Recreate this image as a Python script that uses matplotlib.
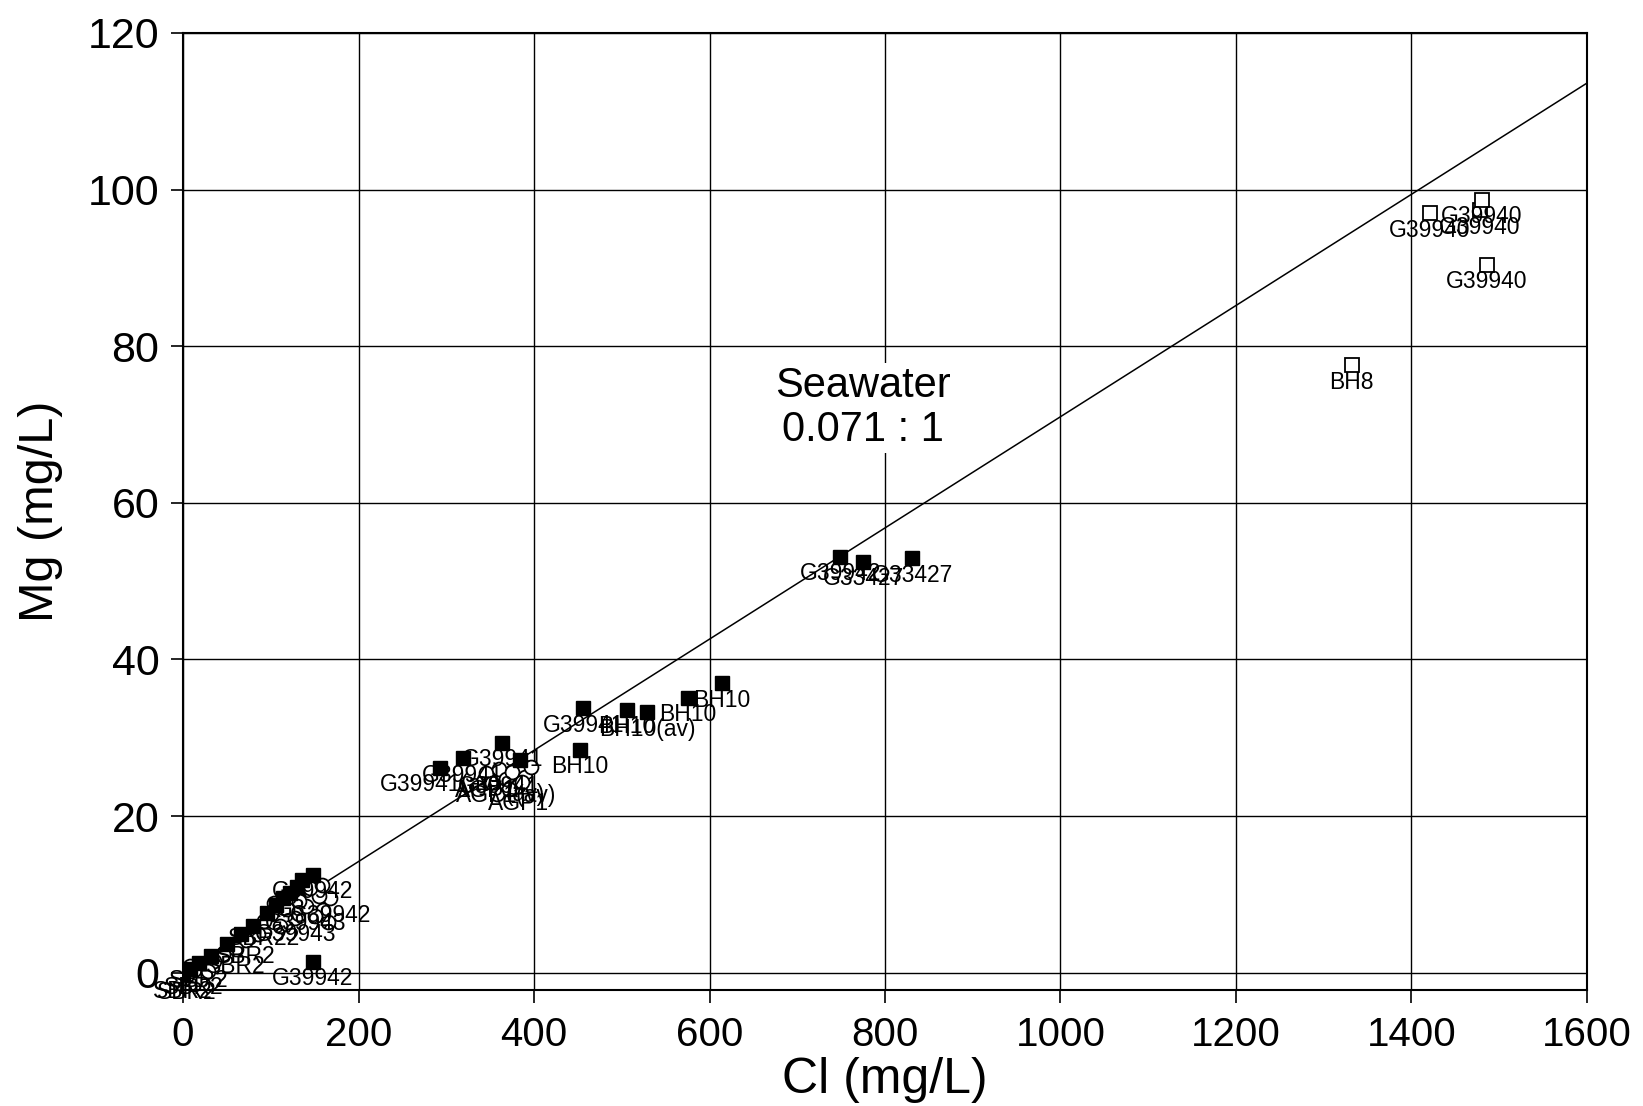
import matplotlib
matplotlib.use("Agg")
import matplotlib.pyplot as plt
from matplotlib import font_manager
import numpy as np

# --- data ---
# open squares (high-salinity bores)
open_cl = [1421, 1478, 1480, 1486, 1332]
open_mg = [97.0, 97.4, 98.7, 90.4, 77.6]
open_lab = ["G39940", "G39940", "G39940", "G39940", "BH8"]

# filled squares
fill_cl = [749, 775, 831, 456, 506, 529, 575, 614, 452, 364, 319, 384, 293,
           148, 136, 130, 122, 114, 106, 96, 80, 66, 50, 32, 18, 8, 0, 148]
fill_mg = [53.1, 52.5, 52.9, 33.8, 33.6, 33.3, 35.1, 37.0, 28.5, 29.4, 27.4, 27.2, 26.2,
           12.5, 11.9, 11.0, 10.2, 9.5, 8.6, 7.6, 6.0, 4.9, 3.7, 2.2, 1.2, 0.5, -0.2, 1.4]
fill_lab = ["G39942", "G33427", "G33427", "G39941", "BH10", "BH10(av)", "BH10", "BH10", "BH10",
            "G39941", "G39941", "", "G39941(av)",
            "G39942", "", "", "G3", "", "", "", "", "", "", "", "SBR2", "", "SBR2", "G39942"]

# open circles
circ_cl = [345, 352, 360, 368, 375, 382, 390, 396, 358, 372, 386,
           165, 160, 168, 155, 150, 140, 128, 118, 110, 100, 92, 85, 72, 60, 45, 35, 22, 12, 4, 8, 28,
           145, 158, 132, 104]
circ_mg = [25.5, 24.2, 26.0, 24.8, 25.6, 23.8, 25.0, 26.3, 22.8, 23.5, 24.4,
           6.5, 8.0, 9.5, 9.8, 7.2, 8.5, 7.0, 8.2, 6.0, 7.5, 6.6, 5.0, 4.2, 3.0, 2.4, 1.5, 0.8, 0.3, -0.3, 0.9, 0.2,
           10.8, 11.2, 9.2, 8.9]
circ_lab = ["AGP1", "", "G39941", "AGP1(av)", "", "AGP1", "(av)", "", "", "", "",
            "", "", "G39942", "", "", "G39943", "G39943", "", "", "", "SBR22", "", "SBR2", "SBR2", "",
            "", "", "SBR2", "SBR2", "", "",
            "", "", "", ""]

seawater_ratio = 0.071
seawater_cl = [0, 1600]

xticks = [0, 200, 400, 600, 800, 1000, 1200, 1400, 1600]
yticks = [0, 20, 40, 60, 80, 100, 120]

names = {f.name for f in font_manager.fontManager.ttflist}
narrow = "Liberation Sans Narrow" if "Liberation Sans Narrow" in names else "Liberation Sans"
plt.rcParams["font.family"] = ["Liberation Sans", "DejaVu Sans"]

fig = plt.figure(figsize=(16.43, 11.06), dpi=100)
ax = fig.add_axes([0.1114, 0.1049, 0.8545, 0.8653])

ax.set_xlim(0, 1600)
ax.set_ylim(-2.2, 120)
ax.set_xticks(xticks)
ax.set_yticks(yticks)
ax.grid(True, color="black", linewidth=1.0, zorder=0)
ax.set_axisbelow(True)
for s in ax.spines.values():
    s.set_linewidth(1.5)

ax.tick_params(axis="both", direction="out", length=9, width=1.2)
ax.tick_params(axis="y", labelsize=31, pad=8)
ax.tick_params(axis="x", labelsize=29, pad=10)
for t in ax.get_xticklabels():
    t.set_fontfamily([narrow, "DejaVu Sans"])

ax.set_xlabel("Cl (mg/L)", fontsize=36, family=[narrow, "DejaVu Sans"], labelpad=2)
ax.set_ylabel("Mg (mg/L)", fontsize=35, labelpad=18)

# seawater mixing line
sw = np.array(seawater_cl)
ax.plot(sw, sw * seawater_ratio, color="black", linewidth=1.1, zorder=2)
ax.text(775, 72.1, "Seawater\n0.071 : 1", fontsize=30, ha="center", va="center",
        linespacing=1.15, zorder=4,
        bbox=dict(facecolor="white", edgecolor="none", pad=2))

ax.plot(circ_cl, circ_mg, linestyle="none", marker="o", markersize=10,
        markerfacecolor="white", markeredgecolor="black", markeredgewidth=1.3, zorder=3)
ax.plot(fill_cl, fill_mg, linestyle="none", marker="s", markersize=10,
        markerfacecolor="black", markeredgecolor="black", zorder=3)
ax.plot(open_cl, open_mg, linestyle="none", marker="s", markersize=10,
        markerfacecolor="white", markeredgecolor="black", markeredgewidth=1.3, zorder=3)

for xs, ys, labs in [(open_cl, open_mg, open_lab), (fill_cl, fill_mg, fill_lab),
                     (circ_cl, circ_mg, circ_lab)]:
    for x, y, lab in zip(xs, ys, labs):
        if lab:
            ax.annotate(lab, (x, y), xytext=(0, -4), textcoords="offset points",
                        ha="center", va="top", fontsize=16.5, zorder=5)

fig.savefig("out.png", dpi=100)
